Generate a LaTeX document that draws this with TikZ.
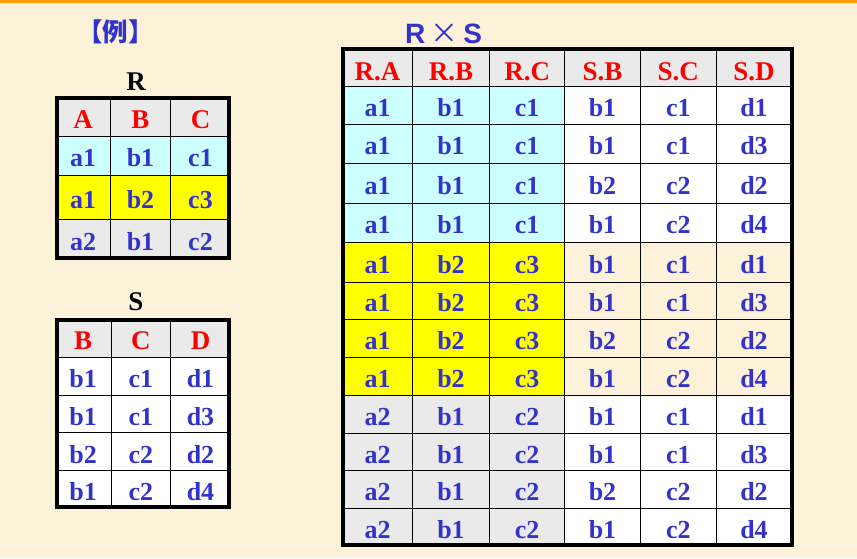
\documentclass[tikz,border=0pt]{standalone}
\usepackage{fontspec}
\setmainfont{Liberation Serif}
\newfontfamily\cjkfont{Noto Sans CJK SC}
\newfontfamily\arialfont{Liberation Sans}
\definecolor{bgcream}{RGB}{252,242,218}
\definecolor{topline}{RGB}{255,153,0}
\definecolor{tblue}{RGB}{51,51,204}
\definecolor{tred}{RGB}{255,0,0}
\definecolor{cgray}{RGB}{234,234,234}
\definecolor{ccyan}{RGB}{204,255,255}
\definecolor{cyel}{RGB}{255,255,0}
\begin{document}
\begin{tikzpicture}[x=1pt,y=-1pt,
  cell/.style={anchor=base,inner sep=0pt,text=tblue,font=\fontsize{26}{30}\selectfont\bfseries},
  hcell/.style={anchor=base,inner sep=0pt,text=tred,font=\fontsize{27}{30}\selectfont\bfseries},
  ttl/.style={anchor=base,inner sep=0pt,text=black,font=\fontsize{27}{30}\selectfont\bfseries},
  gridline/.style={line width=1pt,black},
  frameline/.style={line width=4pt,black}]
\fill[bgcream] (0,0) rectangle (857,558);
\fill[topline] (0,0) rectangle (857,2.5);
\useasboundingbox (0,0) rectangle (857,558);

% example label
\node[anchor=base,inner sep=0pt,text=tblue,font=\cjkfont\fontsize{25.5}{28}\selectfont\bfseries] (ex) at (115.5,41) {【例】};

% ---------- R ----------
\node[ttl] (Rt) at (136,90) {R};
\fill[cgray] (57,97.8) rectangle (228.7,136.3);
\fill[ccyan] (57,136.3) rectangle (228.7,175.3);
\fill[cyel]  (57,175.3) rectangle (228.7,219.3);
\fill[cgray] (57,219.3) rectangle (228.7,258);
\foreach \x in {110.7,170.3} \draw[gridline] (\x,97.8) -- (\x,258);
\foreach \y in {136.3,175.3,219.3} \draw[gridline] (57,\y) -- (228.7,\y);
\draw[frameline] (57,97.8) rectangle (228.7,258);
\foreach \t [count=\i] in {A,B,C}
  \node[hcell] (Rh\i) at ({\i==1 ? 83 : (\i==2 ? 140.5 : 200.5)},128.2) {\t};
\foreach \a/\b/\c/\yb [count=\r] in {a1/b1/c1/166.8, a1/b2/c3/208.3, a2/b1/c2/250.7}{
  \node[cell] (R\r a) at (83,\yb) {\a};
  \node[cell] (R\r b) at (140.5,\yb) {\b};
  \node[cell] (R\r c) at (200.5,\yb) {\c};
}

% ---------- S ----------
\node[ttl] (St) at (136,310.7) {S};
\fill[cgray] (57,320.3) rectangle (228.7,357.3);
\fill[white] (57,357.3) rectangle (228.7,507.3);
\foreach \x in {111.3,170.3} \draw[gridline] (\x,320.3) -- (\x,507.3);
\foreach \y in {357.3,395.3,432.7,470.7} \draw[gridline] (57,\y) -- (228.7,\y);
\draw[frameline] (57,320.3) rectangle (228.7,507.3);
\node[hcell] (Sh1) at (83.2,349.7) {B};
\node[hcell] (Sh2) at (140.8,349.7) {C};
\node[hcell] (Sh3) at (200.5,349.7) {D};
\foreach \a/\b/\c/\yb [count=\r] in {b1/c1/d1/387.3, b1/c1/d3/425.3, b2/c2/d2/463, b1/c2/d4/500.8}{
  \node[cell] (S\r a) at (83.2,\yb) {\a};
  \node[cell] (S\r b) at (140.8,\yb) {\b};
  \node[cell] (S\r c) at (200.5,\yb) {\c};
}

% ---------- R x S ----------
\node[anchor=base,inner sep=0pt,text=tblue,font=\arialfont\fontsize{28}{30}\selectfont\bfseries] (RSt) at (443.5,43.3)
  {R\hspace{5pt}{\mdseries\cjkfont ×}\hspace{5pt}S};
\fill[cgray] (343,49.3) rectangle (792,86.7);
\fill[ccyan] (343,86.7) rectangle (564.7,242.3);
\fill[white] (564.7,86.7) rectangle (792,242.3);
\fill[cyel]  (343,242.3) rectangle (564.7,395.7);
\fill[cgray] (343,395.7) rectangle (564.7,545.3);
\fill[white] (564.7,395.7) rectangle (792,545.3);
\foreach \x in {412.3,489.7,564.7,640.3,716.3} \draw[gridline] (\x,49.3) -- (\x,545.3);
\foreach \y in {86.7,124.3,163.3,203.3,242.3,282.3,319.3,357.3,395.7,433.3,470.7,508.7}
  \draw[gridline] (343,\y) -- (792,\y);
\draw[frameline] (343,49.3) rectangle (792,545.3);
\foreach \t/\x [count=\i] in {R.A/377.6,R.B/451,R.C/527.2,S.B/602.5,S.C/678.3,S.D/754}
  \node[hcell] (Ph\i) at (\x,80) {\t};
\foreach \a/\b/\c/\d/\e/\f/\yt/\ybt [count=\r] in {
  a1/b1/c1/b1/c1/d1/86.7/124.3,
  a1/b1/c1/b1/c1/d3/124.3/163.3,
  a1/b1/c1/b2/c2/d2/163.3/203.3,
  a1/b1/c1/b1/c2/d4/203.3/242.3,
  a1/b2/c3/b1/c1/d1/242.3/282.3,
  a1/b2/c3/b1/c1/d3/282.3/319.3,
  a1/b2/c3/b2/c2/d2/319.3/357.3,
  a1/b2/c3/b1/c2/d4/357.3/395.7,
  a2/b1/c2/b1/c1/d1/395.7/433.3,
  a2/b1/c2/b1/c1/d3/433.3/470.7,
  a2/b1/c2/b2/c2/d2/470.7/508.7,
  a2/b1/c2/b1/c2/d4/508.7/545.3}{
  \pgfmathsetmacro{\yb}{(\yt+\ybt)/2+11}
  \node[cell] (P\r a) at (377.6,\yb) {\a};
  \node[cell] (P\r b) at (451,\yb) {\b};
  \node[cell] (P\r c) at (527.2,\yb) {\c};
  \node[cell] (P\r d) at (602.5,\yb) {\d};
  \node[cell] (P\r e) at (678.3,\yb) {\e};
  \node[cell] (P\r f) at (754,\yb) {\f};
}
\end{tikzpicture}
\end{document}
